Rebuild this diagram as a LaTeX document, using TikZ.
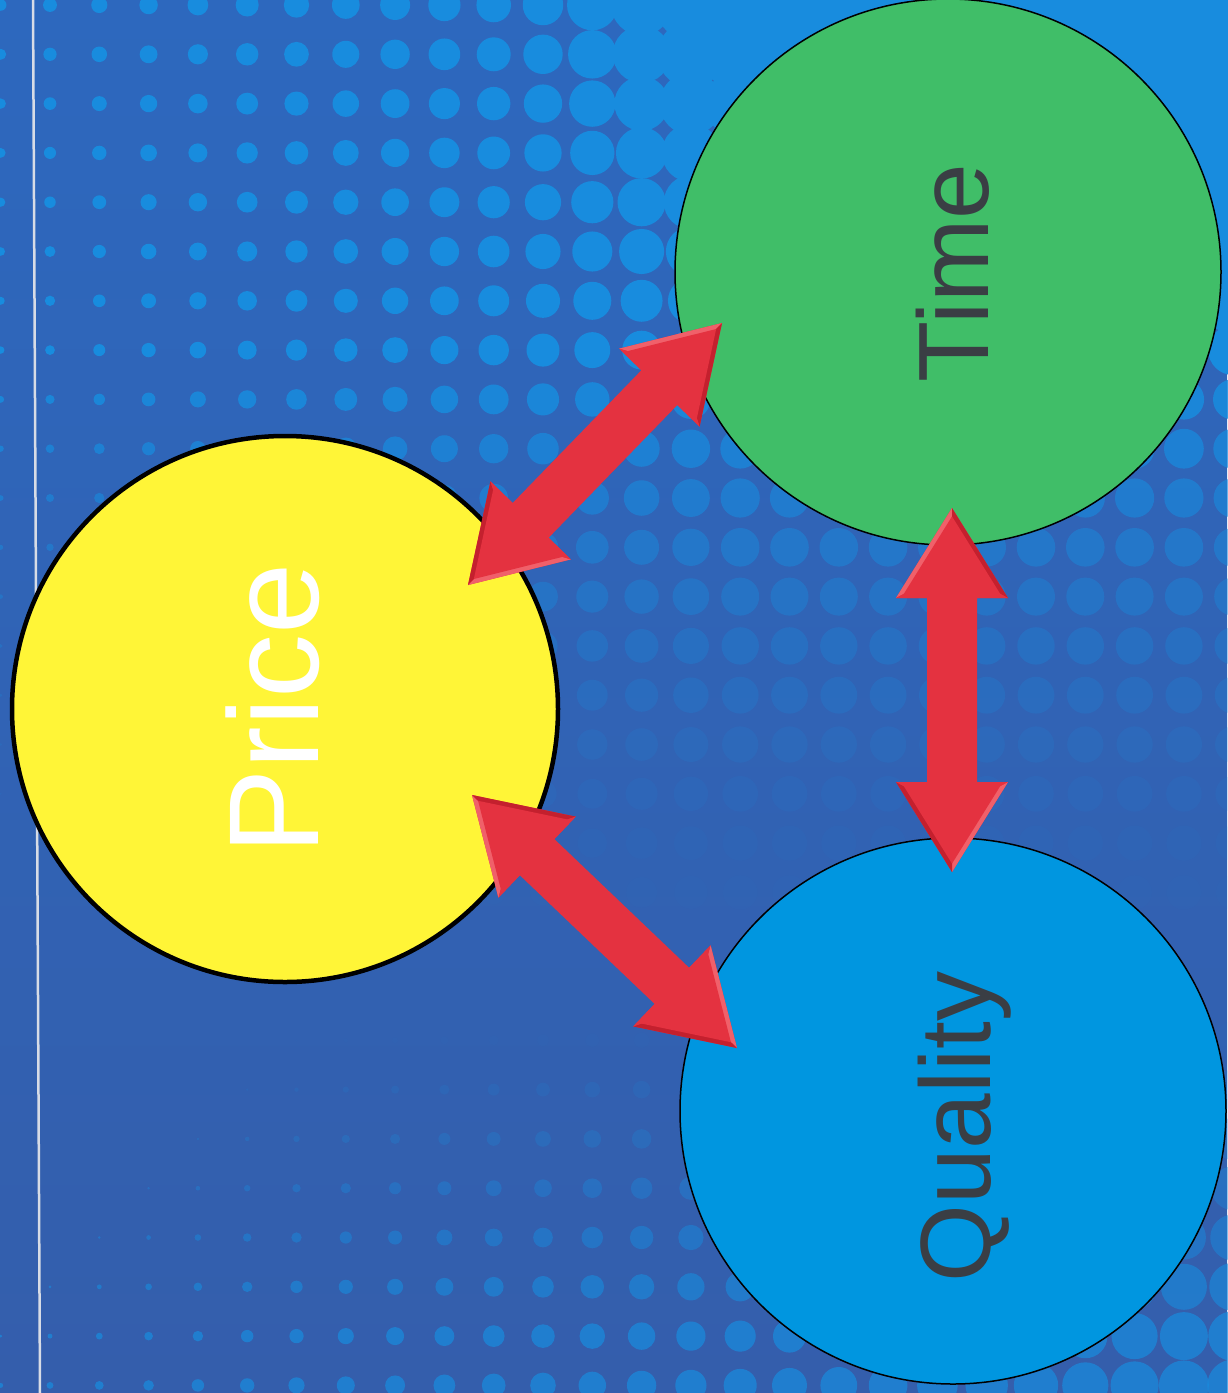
\documentclass[tikz,border=0pt]{standalone}
\usepackage{fontspec}
\setmainfont{Liberation Sans}
\usetikzlibrary{calc}
\definecolor{bgtop}{RGB}{45,104,190}
\definecolor{bgbot}{RGB}{52,94,172}
\definecolor{dotc}{RGB}{24,140,222}
\definecolor{pricey}{RGB}{255,245,55}
\definecolor{timeg}{RGB}{64,190,104}
\definecolor{qualb}{RGB}{0,150,224}
\definecolor{arrred}{RGB}{228,50,64}
\definecolor{arrdark}{RGB}{196,32,46}
\definecolor{arrlight}{RGB}{240,96,106}
\definecolor{labgray}{RGB}{58,62,68}
\definecolor{rulec}{RGB}{215,220,230}
\tikzset{
  bubble/.style={circle, minimum size=546pt, inner sep=0pt, draw=black},
  lbl/.style={anchor=base, rotate=90, inner sep=0pt, font=\fontsize{100}{100}\selectfont},
}
\newcommand\headbevel[2]{%
  \coordinate (bc1) at ($(#2)!56pt!90:(#1)$);
  \coordinate (bc2) at ($(#2)!56pt!-90:(#1)$);
  \coordinate (bi) at ($(#2)!30pt!(#1)$);
  \fill[arrlight] (#1) -- (bc1) -- (bi) -- cycle;
  \fill[arrdark] (#1) -- (bc2) -- (bi) -- cycle;
  \fill[arrred] (bc1) -- (bc2) -- (bi) -- cycle;
  \fill[arrred] ($(bi)!0.86!(#1)$) -- ($(bi)!0.86!(bc1)$) -- ($(bi)!0.86!(bc2)$) -- cycle;
}
\newcommand\dbarrow[2]{%
  \coordinate (ha) at ($(#1)!90pt!(#2)$);
  \coordinate (hb) at ($(#2)!90pt!(#1)$);
  \fill[arrred] (#1) -- ($(ha)!56pt!-90:(#1)$) -- ($(ha)!25pt!-90:(#1)$)
     -- ($(hb)!25pt!90:(#2)$) -- ($(hb)!56pt!90:(#2)$) -- (#2)
     -- ($(hb)!56pt!-90:(#2)$) -- ($(hb)!25pt!-90:(#2)$)
     -- ($(ha)!25pt!90:(#1)$) -- ($(ha)!56pt!90:(#1)$) -- cycle;
  \headbevel{#1}{ha}
  \headbevel{#2}{hb}
}
\begin{document}
\begin{tikzpicture}[x=1pt,y=-1pt]
\useasboundingbox (0,0) rectangle (1227,1393);
\shade[top color=bgtop,bottom color=bgbot] (0,0) rectangle (1227,1393);
% halftone dots
\foreach \i in {0,...,25}{\foreach \j in {0,...,28}{
  \pgfmathsetmacro\px{0.7+49.3*\i}
  \pgfmathsetmacro\py{5+49.3*\j}
  \pgfmathsetmacro\rt{5.8+0.0233*min(\px,720)-0.006*\py+max(0,\px-520)*0.08*max(0,1-\py/380)}
  \pgfmathsetmacro\tt{min(1,max(0,(1000-\py)/650))}
  \pgfmathsetmacro\ot{\tt*\tt}
  \pgfmathsetmacro\rb{0.019*(\px-170)+0.02*(\py-1100)}
  \pgfmathsetmacro\ob{0.7*max(0,min(1,(\py-1030)/300))}
  \ifdim\rt pt>0.8pt \ifdim\ot pt>0.01pt \fill[dotc,opacity=\ot] (\px,\py) circle[radius=\rt]; \fi\fi
  \ifdim\rb pt>0.8pt \ifdim\ob pt>0.01pt \fill[dotc,opacity=\ob] (\px,\py) circle[radius=\rb]; \fi\fi
}}
% thin rule
\coordinate (rtop) at (33,0);
\coordinate (rbot) at (40,1393);
\draw[rulec, line width=2.5pt] (rtop) -- (rbot);
% circles
\node[bubble, fill=pricey, line width=4.5pt] (price) at (285,709) {};
\node[bubble, fill=timeg, line width=1.5pt] (time) at (948,272) {};
\node[bubble, fill=qualb, line width=1.5pt] (quality) at (953,1111) {};
% labels
\node[lbl, text=white, font=\fontsize{128}{128}\selectfont] (pricet) at (318,709) {Price};
\node[lbl, text=labgray] (timet) at (988,273) {Time};
\node[lbl, text=labgray] (qualt) at (990,1127) {Quality};
% arrow tips
\coordinate (pt1) at (468,585);
\coordinate (tp1) at (722,323);
\coordinate (pq1) at (472,795);
\coordinate (qp1) at (737,1048);
\coordinate (tq1) at (952,508);
\coordinate (qt1) at (952,872);
\dbarrow{pt1}{tp1}
\dbarrow{pq1}{qp1}
\dbarrow{tq1}{qt1}
\end{tikzpicture}
\end{document}
